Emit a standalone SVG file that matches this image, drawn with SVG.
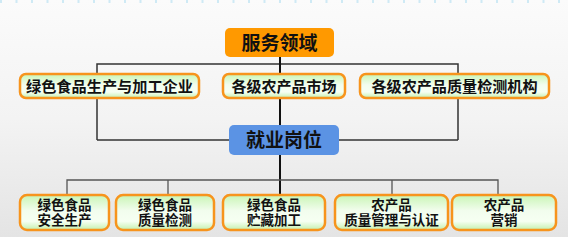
<svg xmlns="http://www.w3.org/2000/svg" width="568" height="237" viewBox="0 0 568 237">
  <defs>
    <linearGradient id="bg" x1="0" y1="0" x2="0" y2="1">
      <stop offset="0" stop-color="#fbfbfb"/>
      <stop offset="0.5" stop-color="#f3f3f3"/>
      <stop offset="1" stop-color="#e4e4e4"/>
    </linearGradient>
    <linearGradient id="green" x1="0" y1="0" x2="0" y2="1">
      <stop offset="0" stop-color="#c9f5b5"/>
      <stop offset="0.45" stop-color="#f2fdee"/>
      <stop offset="0.75" stop-color="#f6fff2"/>
      <stop offset="1" stop-color="#c4f0ad"/>
    </linearGradient>
    <style>
      .box { fill: url(#green); stroke: #f7941d; stroke-width: 2.5; }
      .head { stroke: none; }
      .t { font-family: "Noto Sans CJK SC", "Noto Sans", sans-serif; font-weight: bold; fill: #111; text-anchor: middle; }
      .s { font-size: 13.5px; }
      .c { fill: none; stroke: #333; stroke-width: 1.5; }
      .cm { fill: none; stroke: #111; stroke-width: 2; }
      .cg { fill: none; stroke: #555; stroke-width: 1.3; }
    </style>
  </defs>
  <rect width="568" height="237" fill="url(#bg)"/>
  <line x1="0" y1="1.5" x2="568" y2="1.5" stroke="#cfeaf5" stroke-width="3" stroke-dasharray="2 13.5"/>

  <g id="connectors">
    <polyline class="c" points="97,140 97,64 458,64 458,140"/>
    <line class="c" x1="97" y1="140" x2="229" y2="140"/>
    <line class="c" x1="339" y1="140" x2="458" y2="140"/>
    <line class="cm" x1="280" y1="57" x2="280" y2="125"/>
    <line class="cm" x1="280" y1="155" x2="280" y2="196"/>
    <polyline class="cg" points="67,195 67,180 498,180 498,195"/>
    <line class="cg" x1="168" y1="180" x2="168" y2="195"/>
    <line class="cg" x1="392" y1="180" x2="392" y2="195"/>
  </g>

  <g id="service">
    <rect class="head" x="225" y="28" width="109" height="29" rx="5" fill="#ff9900"/>
    <text class="t" x="279.5" y="49.5" font-size="19">服务领域</text>
  </g>

  <g id="green-food-enterprise">
    <rect class="box" x="20" y="74" width="179" height="24" rx="6"/>
    <text class="t" x="109.5" y="91.5" font-size="15" textLength="167" lengthAdjust="spacingAndGlyphs">绿色食品生产与加工企业</text>
  </g>
  <g id="market">
    <rect class="box" x="223" y="74" width="122" height="24" rx="6"/>
    <text class="t" x="284" y="91.5" font-size="15">各级农产品市场</text>
  </g>
  <g id="inspection-agency">
    <rect class="box" x="360" y="74" width="189" height="24" rx="6"/>
    <text class="t" x="454.5" y="91.5" font-size="15" textLength="166" lengthAdjust="spacingAndGlyphs">各级农产品质量检测机构</text>
  </g>

  <g id="jobs">
    <rect class="head" x="229" y="125" width="110" height="30" rx="5" fill="#5b93e4"/>
    <text class="t" x="284" y="147" font-size="19">就业岗位</text>
  </g>

  <g id="job1">
    <rect class="box" x="20" y="195" width="89" height="35" rx="7"/>
    <text class="t s" x="64.5" y="210">绿色食品</text>
    <text class="t s" x="64.5" y="224.5">安全生产</text>
  </g>
  <g id="job2">
    <rect class="box" x="116" y="195" width="98" height="35" rx="7"/>
    <text class="t s" x="165" y="210">绿色食品</text>
    <text class="t s" x="165" y="224.5">质量检测</text>
  </g>
  <g id="job3">
    <rect class="box" x="223" y="195" width="102" height="35" rx="7"/>
    <text class="t s" x="274" y="210">绿色食品</text>
    <text class="t s" x="274" y="224.5">贮藏加工</text>
  </g>
  <g id="job4">
    <rect class="box" x="335" y="195" width="113" height="35" rx="7"/>
    <text class="t s" x="391.5" y="210">农产品</text>
    <text class="t s" x="391.5" y="224.5">质量管理与认证</text>
  </g>
  <g id="job5">
    <rect class="box" x="452" y="195" width="104" height="35" rx="7"/>
    <text class="t s" x="504" y="210">农产品</text>
    <text class="t s" x="504" y="224.5">营销</text>
  </g>
</svg>
